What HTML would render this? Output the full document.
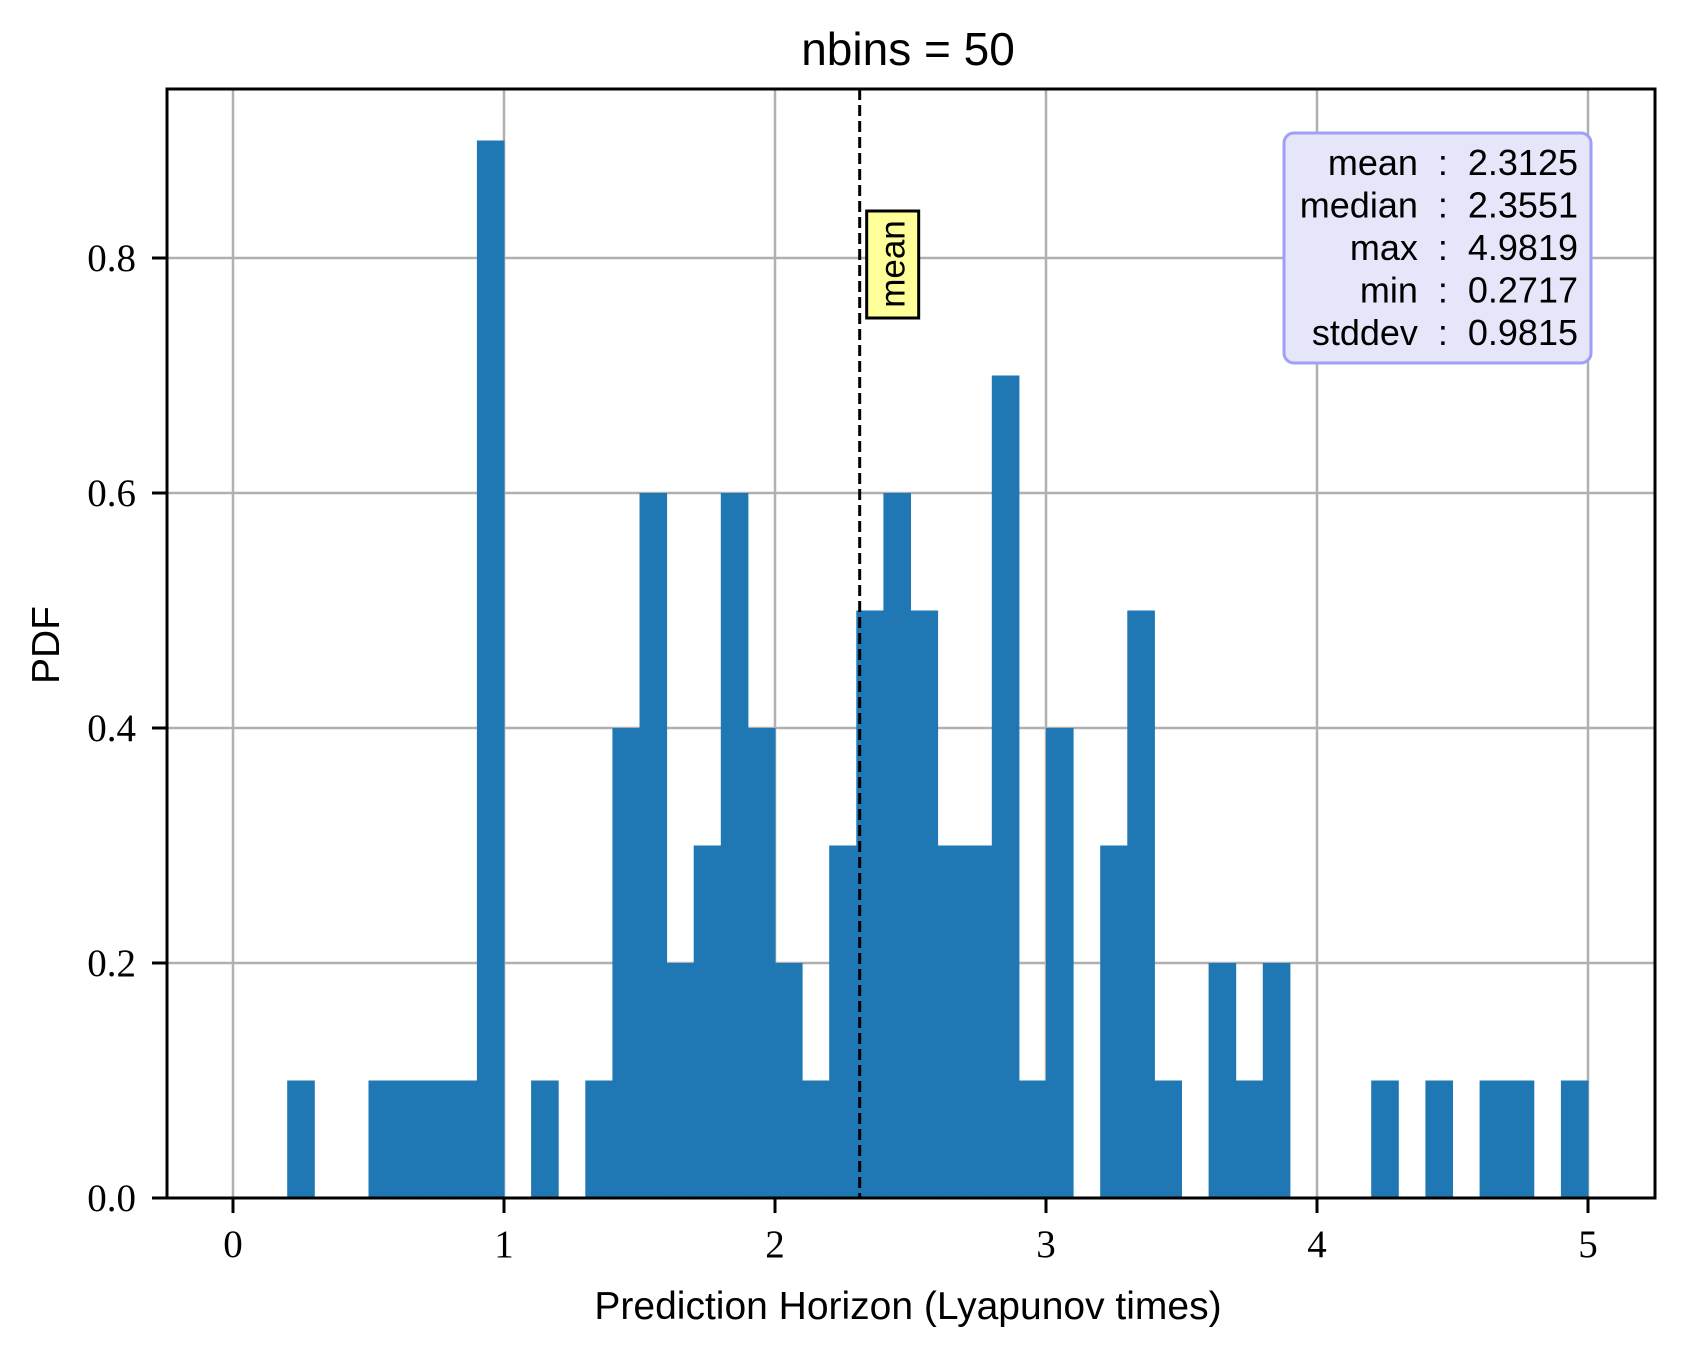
<!DOCTYPE html>
<html><head><meta charset="utf-8"><style>body{margin:0;background:#fff}svg{display:block}</style></head>
<body>
<svg id="chart" width="1683" height="1352" viewBox="0 0 1683 1352" xmlns="http://www.w3.org/2000/svg">
<rect width="1683" height="1352" fill="#fff"/>
<g id="grid"></g><g id="bars"></g><g id="axes"></g><g id="overlay"></g>
</svg>
<script>
const binEdgesStart = 0.0;
const binWidth = 0.1;
const densities = [0,0,0.1,0,0,0.1,0.1,0.1,0.1,0.9,0,0.1,0,0.1,0.4,0.6,0.2,0.3,0.6,0.4,0.2,0.1,0.3,0.5,0.6,0.5,0.3,0.3,0.7,0.1,0.4,0,0.3,0.5,0.1,0,0.2,0.1,0.2,0,0,0,0.1,0,0.1,0,0.1,0.1,0,0.1];
const xTicks = [0,1,2,3,4,5];
const xTickLabels = ["0","1","2","3","4","5"];
const yTicks = [0,0.2,0.4,0.6,0.8];
const yTickLabels = ["0.0","0.2","0.4","0.6","0.8"];
const meanValue = 2.3125;
const statsLines = ["mean  :  2.3125","median  :  2.3551","max  :  4.9819","min  :  0.2717","stddev  :  0.9815"];

const L=167,R=1655,T=89,B=1198;
const X0=233, XU=271, YU=1175;
const sx=v=>X0+v*XU, sy=v=>B-v*YU;
const NS="http://www.w3.org/2000/svg";
function mk(tag,attrs,parent,text){const e=document.createElementNS(NS,tag);for(const k in attrs)e.setAttribute(k,attrs[k]);if(text!==undefined)e.textContent=text;parent.appendChild(e);return e;}
const grid=document.getElementById('grid'),bars=document.getElementById('bars'),axes=document.getElementById('axes'),ov=document.getElementById('overlay');

xTicks.forEach((t,i)=>{
  const g=mk('line',{x1:sx(t),x2:sx(t),y1:T,y2:B,stroke:'#b0b0b0','stroke-width':2.5},grid);
  
  
  const tk=mk('line',{x1:sx(t),x2:sx(t),y1:B,y2:B+15,stroke:'#000','stroke-width':3},axes);
  
  
  const tl=mk('text',{x:sx(t),y:B+59,'text-anchor':'middle','font-family':'"Liberation Serif",serif','font-size':39},axes,xTickLabels[i]);
  
  
});
yTicks.forEach((t,i)=>{
  const g=mk('line',{x1:L,x2:R,y1:sy(t),y2:sy(t),stroke:'#b0b0b0','stroke-width':2.5},grid);
  
  
  const tk=mk('line',{x1:L-15,x2:L,y1:sy(t),y2:sy(t),stroke:'#000','stroke-width':3},axes);
  
  
  const tl=mk('text',{x:136,y:sy(t)+13,'text-anchor':'end','font-family':'"Liberation Serif",serif','font-size':39},axes,yTickLabels[i]);
  
  
});
densities.forEach((d,i)=>{
  if(d<=0)return;
  const x1=sx(binEdgesStart+i*binWidth),x2=sx(binEdgesStart+(i+1)*binWidth);
  const r=mk('rect',{x:x1,y:sy(d),width:x2-x1+0.5,height:B-sy(d),fill:'#1f77b4'},bars);
  
  
});
const sp=mk('rect',{x:L,y:T,width:R-L,height:B-T,fill:'none',stroke:'#000','stroke-width':3},axes);



const ml=mk('line',{x1:sx(meanValue),x2:sx(meanValue),y1:T,y2:B,stroke:'#000','stroke-width':3,'stroke-dasharray':'11,5'},ov);


const mx=sx(meanValue)+7;
const mb=mk('rect',{x:mx,y:211,width:52,height:107,fill:'#ffff99',stroke:'#000','stroke-width':3},ov);


const mt=mk('text',{x:0,y:0,'text-anchor':'middle','font-family':'"Liberation Sans",sans-serif','font-size':35,transform:`translate(${mx+38},264) rotate(-90)`},ov,'mean');



const sb=mk('rect',{x:1284,y:133,width:307,height:230,rx:10,fill:'#e6e6fa',stroke:'#9f9ff7','stroke-width':3},ov);


statsLines.forEach((s,i)=>{
  const t=mk('text',{x:1578,y:175+i*42.5,'text-anchor':'end','font-family':'"Liberation Sans",sans-serif','font-size':36,style:'white-space:pre'},ov,s);
  
  
});
</script>
<script>
const svg=document.getElementById('chart');
function addText(attrs,txt,name){const e=document.createElementNS("http://www.w3.org/2000/svg",'text');for(const k in attrs)e.setAttribute(k,attrs[k]);e.textContent=txt;


svg.appendChild(e);}
addText({x:908,y:65,'text-anchor':'middle','font-family':'"Liberation Sans",sans-serif','font-size':46},'nbins = 50','chart-title');
addText({x:908,y:1319,'text-anchor':'middle','font-family':'"Liberation Sans",sans-serif','font-size':39},'Prediction Horizon (Lyapunov times)','x-axis-title');
addText({x:0,y:0,'text-anchor':'middle','font-family':'"Liberation Sans",sans-serif','font-size':39,transform:'translate(59,645) rotate(-90)'},'PDF','y-axis-title');
</script>
</body></html>
